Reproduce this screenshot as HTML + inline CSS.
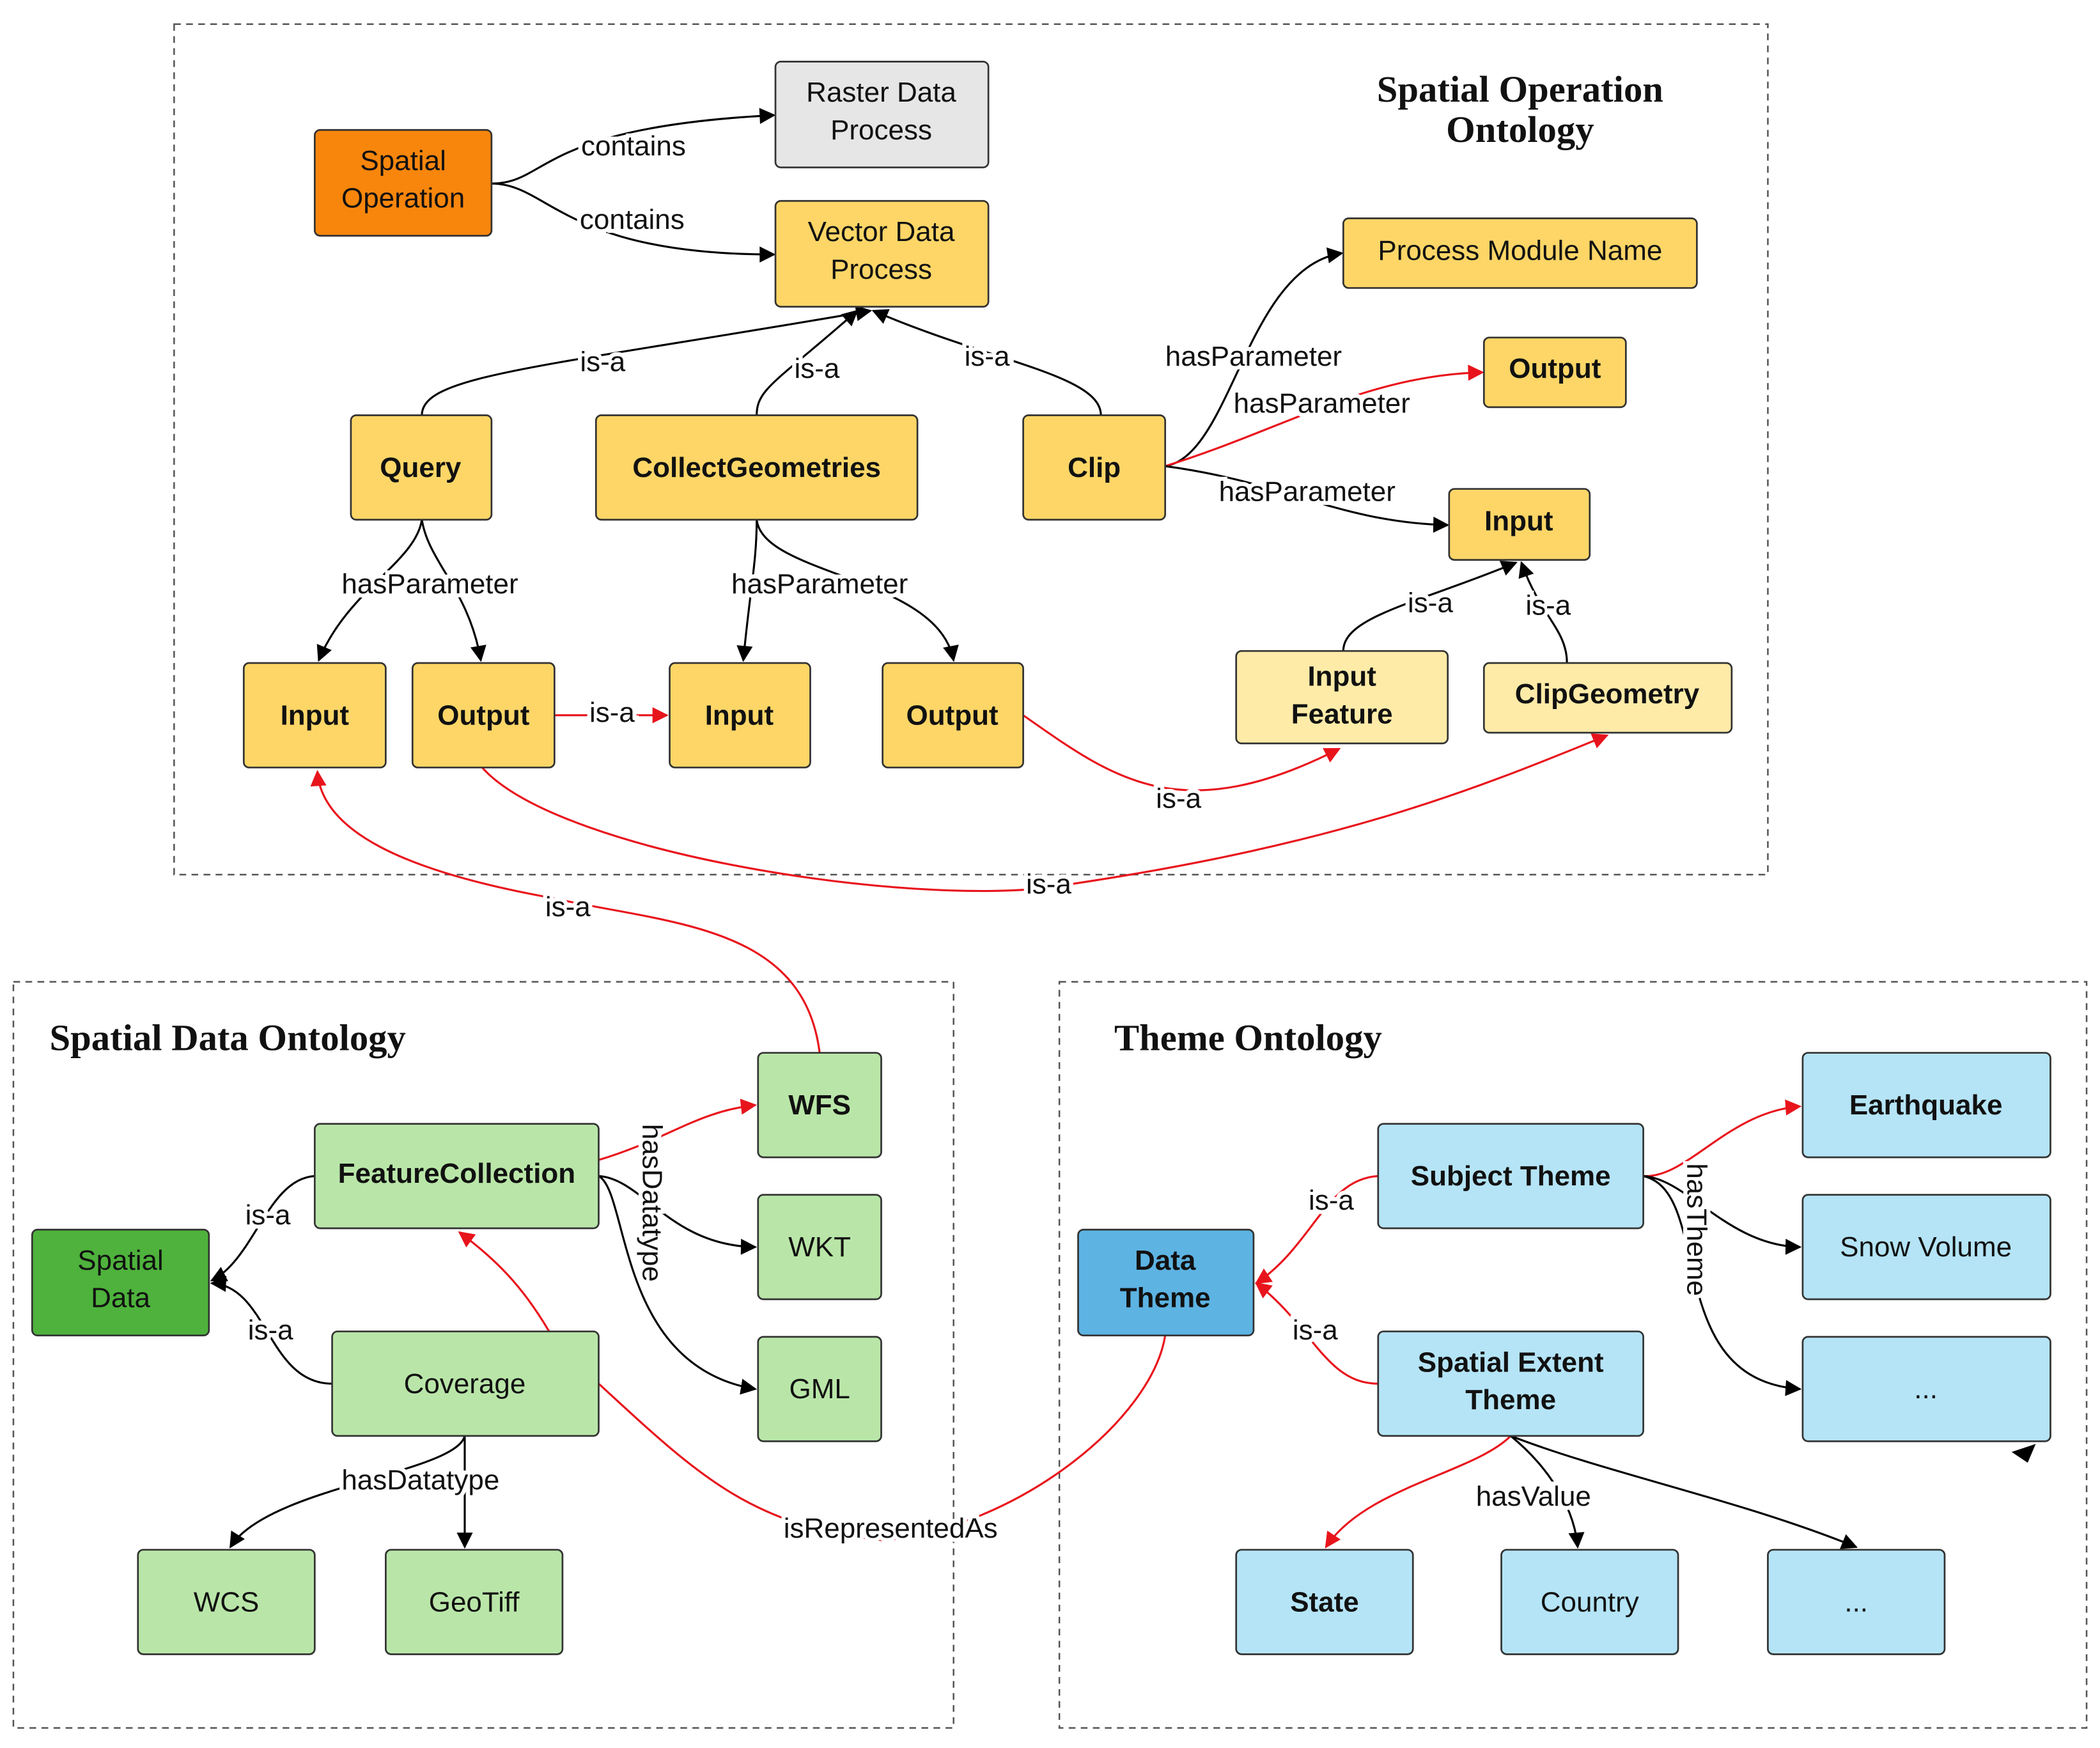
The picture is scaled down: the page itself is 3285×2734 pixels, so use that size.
<!DOCTYPE html>
<html><head><meta charset="utf-8"><style>html,body{margin:0;padding:0;background:#fff}svg{display:block}</style></head>
<body>
<svg width="3285" height="2734" viewBox="0 0 1568 1305" xmlns="http://www.w3.org/2000/svg" font-family="Liberation Sans, sans-serif">
<defs>
<marker id="ab" viewBox="0 0 10 10" refX="9" refY="5" markerWidth="14" markerHeight="12" orient="auto-start-reverse" markerUnits="userSpaceOnUse"><path d="M0,0L10,5L0,10z" fill="#000"/></marker>
<marker id="ar" viewBox="0 0 10 10" refX="9" refY="5" markerWidth="14" markerHeight="12" orient="auto-start-reverse" markerUnits="userSpaceOnUse"><path d="M0,0L10,5L0,10z" fill="#e8141c"/></marker>
<style>
.b{stroke:#000;stroke-width:1.5;fill:none;marker-end:url(#ab)}
.r{stroke:#e8141c;stroke-width:1.5;fill:none;marker-end:url(#ar)}
.t{font-size:21px;text-anchor:middle;fill:#111}
.bt{font-size:21px;text-anchor:middle;font-weight:bold;fill:#111}
.lb{font-size:21px;text-anchor:middle;fill:#111;paint-order:stroke;stroke:#fff;stroke-width:6px}
.n{stroke:#333;stroke-width:1.3}
.ttl{font-family:"Liberation Serif",serif;font-weight:bold;font-size:28px;fill:#111}
</style>
</defs>
<rect width="1568" height="1305" fill="#fff"/>
<g fill="none" stroke="#555" stroke-width="1.2" stroke-dasharray="5,4">
<rect x="130" y="18" width="1190" height="635"/>
<rect x="10" y="733" width="702" height="557"/>
<rect x="791" y="733" width="767" height="557"/>
</g>
<text class="ttl" x="1135" y="76" text-anchor="middle">Spatial Operation</text>
<text class="ttl" x="1135" y="106" text-anchor="middle">Ontology</text>
<text class="ttl" x="37" y="784">Spatial Data Ontology</text>
<text class="ttl" x="832" y="784">Theme Ontology</text>

<path class="b" d="M367,137 C410,137 400,95 578,86"/>
<path class="b" d="M367,137 C410,137 420,190 578,190"/>
<path class="b" d="M315,310 C315,280 400,275 650,232"/>
<path class="b" d="M565,310 C565,290 580,285 640,232"/>
<path class="b" d="M822,310 C822,280 740,270 652,232"/>
<path class="b" d="M870,348 C920,340 930,200 1002,189"/>
<path class="r" d="M870,348 C960,320 1020,280 1107,278"/>
<path class="b" d="M870,348 C960,360 1000,390 1081,392"/>
<path class="b" d="M1003,486 C1003,460 1060,450 1132,420"/>
<path class="b" d="M1170,495 C1170,470 1150,460 1136,420"/>
<path class="b" d="M315,388 C310,420 260,440 238,493"/>
<path class="b" d="M315,388 C320,420 350,440 359,493"/>
<path class="b" d="M565,388 C565,420 560,440 555,493"/>
<path class="b" d="M565,388 C570,430 700,430 712,493"/>
<path class="r" d="M414,534 L498,534"/>
<path class="r" d="M764,534 C830,580 880,620 1000,559"/>
<path class="r" d="M360,573 C420,640 700,680 800,660 C1000,630 1100,590 1200,549"/>
<path class="r" d="M612,786 C600,690 500,690 410,670 C300,650 240,620 237,576"/>
<path class="r" d="M447,866 C500,850 520,830 564,825"/>
<path class="b" d="M447,878 C480,880 500,930 564,931"/>
<path class="b" d="M447,878 C470,890 460,1020 564,1037"/>
<path class="b" d="M235,878 C200,880 190,940 158,956"/>
<path class="b" d="M248,1033 C200,1033 200,960 158,958"/>
<path class="b" d="M347,1072 C340,1100 200,1110 172,1155"/>
<path class="b" d="M347,1072 L347,1155"/>
<path class="r" d="M410,994 C390,960 370,940 343,920"/>
<path d="M447,1033 C520,1100 560,1140 660,1150 C760,1140 860,1060 870,997" stroke="#e8141c" stroke-width="1.5" fill="none"/>
<path class="r" d="M1029,878 C990,880 980,930 938,958"/>
<path class="r" d="M1029,1033 C990,1033 980,990 938,958"/>
<path class="r" d="M1227,878 C1260,880 1290,830 1344,826"/>
<path class="b" d="M1227,878 C1260,880 1290,930 1344,931"/>
<path class="b" d="M1227,878 C1280,890 1240,1030 1344,1037"/>
<path class="r" d="M1128,1072 C1100,1100 1020,1110 990,1155"/>
<path class="b" d="M1128,1072 C1150,1090 1175,1120 1178,1155"/>
<path class="b" d="M1128,1072 C1200,1100 1300,1120 1386,1155"/>
<path d="M1520,1078 L1502,1084 L1514,1092z" fill="#000"/>

<text class="lb" x="473" y="116">contains</text>
<text class="lb" x="472" y="171">contains</text>
<text class="lb" x="450" y="277">is-a</text>
<text class="lb" x="610" y="282">is-a</text>
<text class="lb" x="737" y="273">is-a</text>
<text class="lb" x="936" y="273">hasParameter</text>
<text class="lb" x="987" y="308">hasParameter</text>
<text class="lb" x="976" y="374">hasParameter</text>
<text class="lb" x="1068" y="457">is-a</text>
<text class="lb" x="1156" y="459">is-a</text>
<text class="lb" x="321" y="443">hasParameter</text>
<text class="lb" x="612" y="443">hasParameter</text>
<text class="lb" x="457" y="539">is-a</text>
<text class="lb" x="880" y="603">is-a</text>
<text class="lb" x="783" y="667">is-a</text>
<text class="lb" x="424" y="684">is-a</text>
<text class="lb" x="200" y="914">is-a</text>
<text class="lb" x="202" y="1000">is-a</text>
<text class="lb" x="314" y="1112">hasDatatype</text>
<text class="lb" x="665" y="1148">isRepresentedAs</text>
<text class="lb" x="994" y="903">is-a</text>
<text class="lb" x="982" y="1000">is-a</text>
<text class="lb" x="1145" y="1124">hasValue</text>
<text class="lb" transform="translate(480,898) rotate(90)" x="0" y="0">hasDatatype</text>
<text class="lb" transform="translate(1260,918) rotate(90)" x="0" y="0">hasTheme</text>

<g class="n">
<rect x="235" y="97" width="132" height="79" rx="4" fill="#f8860d"/>
<rect x="579" y="46" width="159" height="79" rx="4" fill="#e6e6e6"/>
<rect x="579" y="150" width="159" height="79" rx="4" fill="#fdd667"/>
<rect x="1003" y="163" width="264" height="52" rx="4" fill="#fdd667"/>
<rect x="1108" y="252" width="106" height="52" rx="4" fill="#fdd667"/>
<rect x="262" y="310" width="105" height="78" rx="4" fill="#fdd667"/>
<rect x="445" y="310" width="240" height="78" rx="4" fill="#fdd667"/>
<rect x="764" y="310" width="106" height="78" rx="4" fill="#fdd667"/>
<rect x="1082" y="365" width="105" height="53" rx="4" fill="#fdd667"/>
<rect x="182" y="495" width="106" height="78" rx="4" fill="#fdd667"/>
<rect x="308" y="495" width="106" height="78" rx="4" fill="#fdd667"/>
<rect x="500" y="495" width="105" height="78" rx="4" fill="#fdd667"/>
<rect x="659" y="495" width="105" height="78" rx="4" fill="#fdd667"/>
<rect x="923" y="486" width="158" height="69" rx="4" fill="#feeba8"/>
<rect x="1108" y="495" width="185" height="52" rx="4" fill="#feeba8"/>
<rect x="24" y="918" width="132" height="79" rx="4" fill="#4eb23c"/>
<rect x="235" y="839" width="212" height="78" rx="4" fill="#b9e6a8"/>
<rect x="248" y="994" width="199" height="78" rx="4" fill="#b9e6a8"/>
<rect x="566" y="786" width="92" height="78" rx="4" fill="#b9e6a8"/>
<rect x="566" y="892" width="92" height="78" rx="4" fill="#b9e6a8"/>
<rect x="566" y="998" width="92" height="78" rx="4" fill="#b9e6a8"/>
<rect x="103" y="1157" width="132" height="78" rx="4" fill="#b9e6a8"/>
<rect x="288" y="1157" width="132" height="78" rx="4" fill="#b9e6a8"/>
<rect x="805" y="918" width="131" height="79" rx="4" fill="#5db3e2"/>
<rect x="1029" y="839" width="198" height="78" rx="4" fill="#b4e4f6"/>
<rect x="1029" y="994" width="198" height="78" rx="4" fill="#b4e4f6"/>
<rect x="1346" y="786" width="185" height="78" rx="4" fill="#b4e4f6"/>
<rect x="1346" y="892" width="185" height="78" rx="4" fill="#b4e4f6"/>
<rect x="1346" y="998" width="185" height="78" rx="4" fill="#b4e4f6"/>
<rect x="923" y="1157" width="132" height="78" rx="4" fill="#b4e4f6"/>
<rect x="1121" y="1157" width="132" height="78" rx="4" fill="#b4e4f6"/>
<rect x="1320" y="1157" width="132" height="78" rx="4" fill="#b4e4f6"/>
</g>

<text class="t" x="301" y="127">Spatial</text><text class="t" x="301" y="155">Operation</text>
<text class="t" x="658" y="76">Raster Data</text><text class="t" x="658" y="104">Process</text>
<text class="t" x="658" y="180">Vector Data</text><text class="t" x="658" y="208">Process</text>
<text class="t" x="1135" y="194">Process Module Name</text>
<text class="bt" x="1161" y="282">Output</text>
<text class="bt" x="314" y="356">Query</text>
<text class="bt" x="565" y="356">CollectGeometries</text>
<text class="bt" x="817" y="356">Clip</text>
<text class="bt" x="1134" y="396">Input</text>
<text class="bt" x="235" y="541">Input</text>
<text class="bt" x="361" y="541">Output</text>
<text class="bt" x="552" y="541">Input</text>
<text class="bt" x="711" y="541">Output</text>
<text class="bt" x="1002" y="512">Input</text><text class="bt" x="1002" y="540">Feature</text>
<text class="bt" x="1200" y="525">ClipGeometry</text>
<text class="t" x="90" y="948">Spatial</text><text class="t" x="90" y="976">Data</text>
<text class="bt" x="341" y="883">FeatureCollection</text>
<text class="t" x="347" y="1040">Coverage</text>
<text class="bt" x="612" y="832">WFS</text>
<text class="t" x="612" y="938">WKT</text>
<text class="t" x="612" y="1044">GML</text>
<text class="t" x="169" y="1203">WCS</text>
<text class="t" x="354" y="1203">GeoTiff</text>
<text class="bt" x="870" y="948">Data</text><text class="bt" x="870" y="976">Theme</text>
<text class="bt" x="1128" y="885">Subject Theme</text>
<text class="bt" x="1128" y="1024">Spatial Extent</text><text class="bt" x="1128" y="1052">Theme</text>
<text class="bt" x="1438" y="832">Earthquake</text>
<text class="t" x="1438" y="938">Snow Volume</text>
<text class="t" x="1438" y="1044">...</text>
<text class="bt" x="989" y="1203">State</text>
<text class="t" x="1187" y="1203">Country</text>
<text class="t" x="1386" y="1203">...</text>
</svg>
</body></html>
